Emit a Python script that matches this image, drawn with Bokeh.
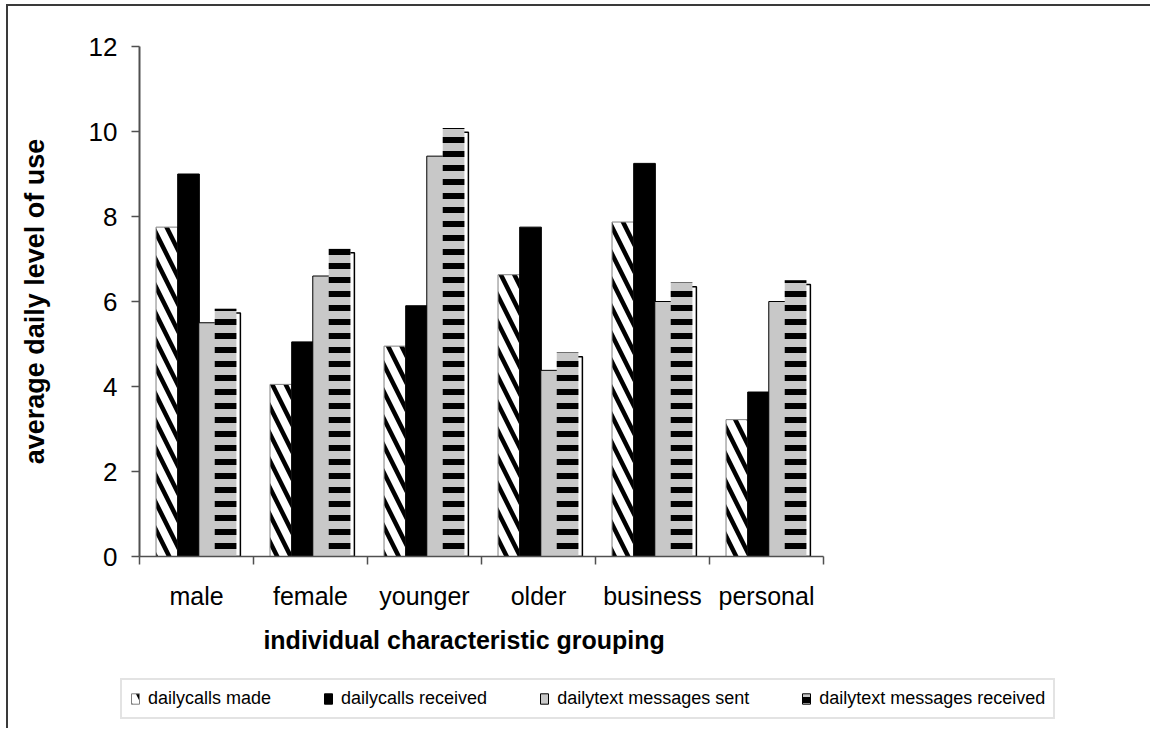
from bokeh.plotting import figure
from bokeh.models import (ColumnDataSource, FixedTicker, Legend, LegendItem, Range1d)
from bokeh.embed import file_html
from bokeh.resources import INLINE

# ---------------- data ----------------
categories = ["male", "female", "younger", "older", "business", "personal"]
calls_made = [7.75, 4.05, 4.95, 6.63, 7.87, 3.22]
calls_received = [9.0, 5.05, 5.9, 7.75, 9.25, 3.87]
texts_sent = [5.5, 6.6, 9.42, 4.38, 6.0, 6.0]
texts_received = [5.78, 7.2, 10.03, 4.75, 6.4, 6.45]
series_labels = ["dailycalls made", "dailycalls received",
                 "dailytext messages sent", "dailytext messages received"]
y_ticks = [0, 2, 4, 6, 8, 10, 12]
x_title = "individual characteristic grouping"
y_title = "average daily level of use"

FONT = "Liberation Sans"
AXIS = "#505050"
GRAY = "#c8c8c8"
EDGE = "2px solid #3a3a3a"

n = len(categories)
idx = list(range(n))
bw = 0.19
offs = [0.24, 0.43, 0.615, 0.79]

def src(vals, off, dy=0.0):
    return ColumnDataSource(dict(x=[i + off for i in idx],
                                 top=[v + dy for v in vals],
                                 cat=categories))

style1 = dict(fill_color="white", line_color="#808080", line_width=1,
              hatch_pattern="left_diagonal_line", hatch_color="black",
              hatch_weight=4.5, hatch_scale=27)
style2 = dict(fill_color="black", line_color="black", line_width=1)
style3 = dict(fill_color=GRAY, line_color="black", line_width=1)
style4 = dict(fill_color=GRAY, line_color=None,
              hatch_pattern="horizontal_line", hatch_color="black",
              hatch_weight=6, hatch_scale=14)

p = figure(width=1144, height=664, output_backend="svg", toolbar_location=None,
           x_range=Range1d(0, n), y_range=Range1d(0, 12),
           min_border_left=131, min_border_right=329,
           min_border_top=40, min_border_bottom=114,
           background_fill_color="white", border_fill_color="white")
p.styles = {"border-top": EDGE, "border-left": EDGE,
            "margin-top": "4px", "margin-left": "6px"}
p.outline_line_color = None
p.xgrid.visible = False
p.ygrid.visible = False

# bars
r1 = p.vbar(x="x", top="top", width=bw, source=src(calls_made, offs[0]), **style1)
r2 = p.vbar(x="x", top="top", width=bw, source=src(calls_received, offs[1]), **style2)
r3 = p.vbar(x="x", top="top", width=bw, source=src(texts_sent, offs[2]), **style3)
p.vbar(x="x", top="top", width=bw, source=src(texts_received, offs[3], -0.05),
       fill_color="white", line_color="black", line_width=1.5)
r4 = p.vbar(x="x", top="top", width=bw,
            source=src(texts_received, offs[3] - 0.035, 0.05), **style4)

# y axis
ya = p.yaxis[0]
ya.ticker = FixedTicker(ticks=y_ticks)
ya.axis_line_color = AXIS
ya.axis_line_width = 2
ya.major_tick_line_color = AXIS
ya.major_tick_line_width = 1.5
ya.major_tick_out = 8
ya.major_tick_in = 0
ya.minor_tick_line_color = None
ya.major_label_text_font = FONT
ya.major_label_text_font_size = "26px"
ya.major_label_text_color = "black"
ya.major_label_standoff = 14
ya.axis_label = y_title
ya.axis_label_text_font = FONT
ya.axis_label_text_font_style = "bold"
ya.axis_label_text_font_size = "27px"
ya.axis_label_text_color = "black"
ya.axis_label_standoff = 36

# x axis: labels at centers, ticks at boundaries (minor ticks)
xa = p.xaxis[0]
xa.ticker = FixedTicker(ticks=[i + 0.5 for i in idx],
                        minor_ticks=[i for i in range(n + 1)])
xa.major_label_overrides = {i + 0.5: c for i, c in zip(idx, categories)}
xa.axis_line_color = AXIS
xa.axis_line_width = 1.5
xa.major_tick_line_color = None
xa.major_tick_out = 0
xa.major_tick_in = 0
xa.minor_tick_line_color = AXIS
xa.minor_tick_line_width = 1.5
xa.minor_tick_out = 8
xa.minor_tick_in = 0
xa.major_label_text_font = FONT
xa.major_label_text_font_size = "25px"
xa.major_label_text_color = "black"
xa.major_label_standoff = 17
xa.axis_label = x_title + "\u00a0" * 5
xa.axis_label_text_font = FONT
xa.axis_label_text_font_style = "bold"
xa.axis_label_text_font_size = "25px"
xa.axis_label_text_color = "black"
xa.axis_label_standoff = 13

# ---------------- legend strip (separate root, full-width frame) ----------------
lf = figure(width=1144, height=60, output_backend="svg", toolbar_location=None,
            x_range=Range1d(0, 1), y_range=Range1d(0, 1),
            x_axis_type=None, y_axis_type=None,
            min_border_left=0, min_border_right=0, min_border_top=0,
            min_border_bottom=0, background_fill_color="white",
            border_fill_color="white")
lf.styles = {"border-left": EDGE, "margin-left": "6px"}
lf.outline_line_color = None
lf.xgrid.visible = False
lf.ygrid.visible = False
hidden = lambda: ColumnDataSource(dict(x=[5.0], top=[1.0]))
l1 = lf.vbar(x="x", top="top", width=0.1, source=hidden(), **style1)
l2 = lf.vbar(x="x", top="top", width=0.1, source=hidden(), **style2)
l3 = lf.vbar(x="x", top="top", width=0.1, source=hidden(), **style3)
l4 = lf.vbar(x="x", top="top", width=0.1, source=hidden(),
             **dict(style4, line_color="black", line_width=1))

legend = Legend(items=[LegendItem(label=series_labels[0], renderers=[l1]),
                       LegendItem(label=series_labels[1], renderers=[l2]),
                       LegendItem(label=series_labels[2], renderers=[l3]),
                       LegendItem(label=series_labels[3], renderers=[l4])],
                orientation="horizontal", location=(112, 9),
                label_text_font=FONT, label_text_font_size="18px",
                label_text_color="black", glyph_width=10, glyph_height=13,
                label_standoff=8, spacing=52, padding=8, margin=0,
                border_line_color="#c8c8c8", border_line_width=2,
                background_fill_color="white", background_fill_alpha=1.0)
lf.add_layout(legend, "center")

open("out.html", "w").write(file_html([p, lf], INLINE))
